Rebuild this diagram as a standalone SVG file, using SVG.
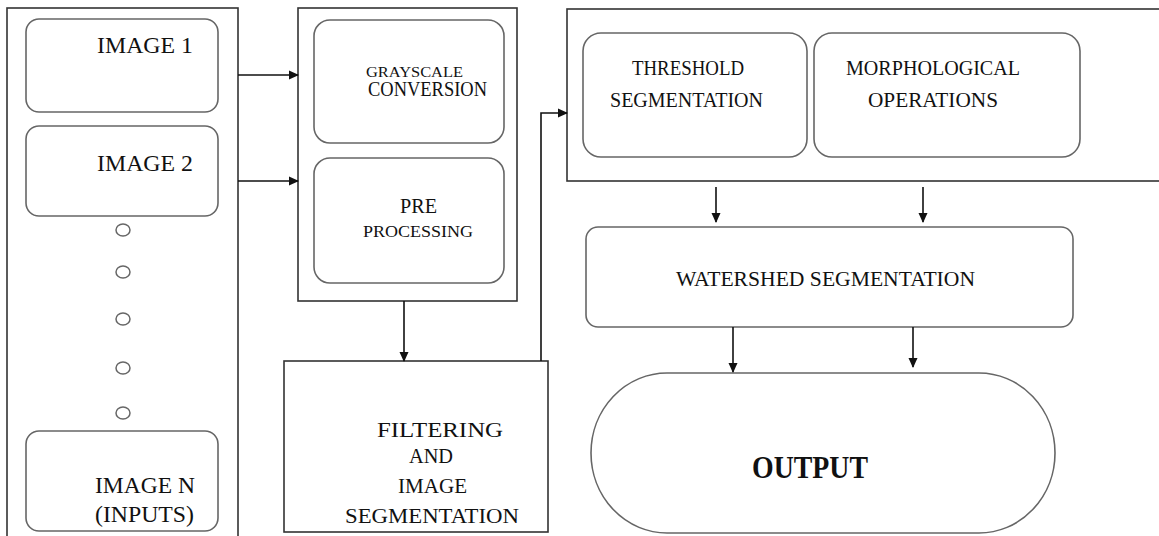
<svg xmlns="http://www.w3.org/2000/svg" width="1159" height="536" viewBox="0 0 1159 536">
<defs>
<marker id="ah" markerWidth="10" markerHeight="10" refX="9" refY="5" orient="auto" markerUnits="userSpaceOnUse">
<path d="M0,0.5 L10,5 L0,9.5 Z" fill="#111"/>
</marker>
<style>
.outer{fill:#fff;stroke:#333;stroke-width:1.6}
.box{fill:#fff;stroke:#666;stroke-width:1.6}
.dot{fill:none;stroke:#666;stroke-width:1.5}
text{font-family:'Liberation Serif','DejaVu Serif',serif;fill:#111}
.conn{fill:none;stroke:#111;stroke-width:1.6}
</style>
</defs>
<rect width="1159" height="536" fill="#fff"/>

<g id="inputs-panel">
<rect class="outer" x="7" y="8" width="231" height="540"/>
</g>
<g id="image1">
<rect class="box" x="26" y="19" width="192" height="93" rx="13"/>
<text x="97" y="53" font-size="23" textLength="96" lengthAdjust="spacingAndGlyphs">IMAGE 1</text>
</g>
<g id="image2">
<rect class="box" x="26" y="126" width="192" height="90" rx="13"/>
<text x="97" y="171" font-size="23" textLength="96" lengthAdjust="spacingAndGlyphs">IMAGE 2</text>
</g>
<g id="dots">
<ellipse class="dot" cx="123" cy="230" rx="7" ry="6"/>
<ellipse class="dot" cx="123" cy="272" rx="7" ry="6"/>
<ellipse class="dot" cx="123" cy="319" rx="7" ry="6"/>
<ellipse class="dot" cx="123" cy="368" rx="7" ry="6"/>
<ellipse class="dot" cx="123" cy="413" rx="7" ry="6"/>
</g>
<g id="imagen">
<rect class="box" x="26" y="431" width="192" height="100" rx="13"/>
<text x="95" y="493" font-size="23" textLength="100" lengthAdjust="spacingAndGlyphs">IMAGE N</text>
<text x="95" y="522" font-size="23" textLength="99" lengthAdjust="spacingAndGlyphs">(INPUTS)</text>
</g>

<g id="preprocess-panel">
<rect class="outer" x="298" y="8" width="219" height="293"/>
</g>
<g id="grayscale">
<rect class="box" x="314" y="20" width="190" height="123" rx="16"/>
<text x="366" y="77" font-size="15" textLength="97" lengthAdjust="spacingAndGlyphs">GRAYSCALE</text>
<text x="368" y="96" font-size="20" textLength="119" lengthAdjust="spacingAndGlyphs">CONVERSION</text>
</g>
<g id="preprocessing">
<rect class="box" x="314" y="158" width="190" height="125" rx="16"/>
<text x="400" y="213" font-size="21" textLength="37" lengthAdjust="spacingAndGlyphs">PRE</text>
<text x="363" y="237" font-size="17" textLength="110" lengthAdjust="spacingAndGlyphs">PROCESSING</text>
</g>

<g id="filtering">
<rect class="outer" x="284" y="361" width="264" height="171"/>
<text x="377" y="437" font-size="22" textLength="126" lengthAdjust="spacingAndGlyphs">FILTERING</text>
<text x="409" y="463" font-size="20" textLength="44" lengthAdjust="spacingAndGlyphs">AND</text>
<text x="398" y="493" font-size="20" textLength="69" lengthAdjust="spacingAndGlyphs">IMAGE</text>
<text x="345" y="523" font-size="20" textLength="174" lengthAdjust="spacingAndGlyphs">SEGMENTATION</text>
</g>

<g id="segment-panel">
<rect class="outer" x="567" y="9" width="620" height="172"/>
</g>
<g id="threshold">
<rect class="box" x="583" y="33" width="224" height="124" rx="18"/>
<text x="632" y="75" font-size="20" textLength="112" lengthAdjust="spacingAndGlyphs">THRESHOLD</text>
<text x="610" y="107" font-size="20" textLength="153" lengthAdjust="spacingAndGlyphs">SEGMENTATION</text>
</g>
<g id="morphological">
<rect class="box" x="814" y="33" width="266" height="124" rx="18"/>
<text x="846" y="75" font-size="20" textLength="174" lengthAdjust="spacingAndGlyphs">MORPHOLOGICAL</text>
<text x="868" y="107" font-size="20" textLength="130" lengthAdjust="spacingAndGlyphs">OPERATIONS</text>
</g>

<g id="watershed">
<rect class="box" x="586" y="227" width="487" height="100" rx="12"/>
<text x="676" y="286" font-size="21" textLength="299" lengthAdjust="spacingAndGlyphs">WATERSHED SEGMENTATION</text>
</g>

<g id="output">
<rect class="box" x="591" y="373" width="464" height="160" rx="76" ry="80"/>
<text x="752" y="478" font-size="32" font-weight="bold" textLength="116" lengthAdjust="spacingAndGlyphs">OUTPUT</text>
</g>

<g id="connectors">
<line class="conn" x1="238" y1="75" x2="298" y2="75" marker-end="url(#ah)"/>
<line class="conn" x1="238" y1="181" x2="298" y2="181" marker-end="url(#ah)"/>
<line class="conn" x1="404" y1="301" x2="404" y2="361" marker-end="url(#ah)"/>
<polyline class="conn" points="541,361 541,113 567,113" marker-end="url(#ah)"/>
<line class="conn" x1="716" y1="187" x2="716" y2="222" marker-end="url(#ah)"/>
<line class="conn" x1="923" y1="187" x2="923" y2="222" marker-end="url(#ah)"/>
<line class="conn" x1="733" y1="327" x2="733" y2="372" marker-end="url(#ah)"/>
<line class="conn" x1="913" y1="327" x2="913" y2="367" marker-end="url(#ah)"/>
</g>
</svg>
